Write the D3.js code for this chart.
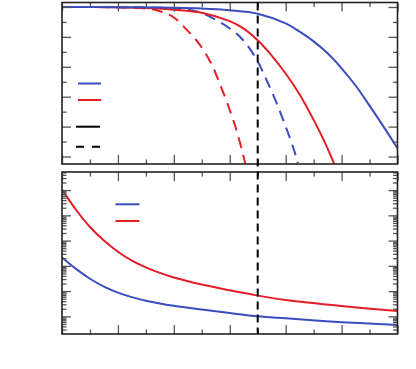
<!DOCTYPE html>
<html><head><meta charset="utf-8">
<script src="https://cdn.jsdelivr.net/npm/d3@7"></script>
<style>body{margin:0;background:#fff}svg{display:block}</style>
</head><body><svg id="c" width="416" height="369"></svg>
<script>
// ---- data ----
const xMajorTicks = [0, 1, 2, 3, 4, 5, 6];
const xMinorTicks = [0.5, 1.5, 2.5, 3.5, 4.5, 5.5];
const markerX = 3.5;

const topYMajor = [0, 0.2, 0.4, 0.6, 0.8, 1.0];
const topYMinor = [0.1, 0.3, 0.5, 0.7, 0.9];

const blueSolidX = [0, 1, 2, 2.5, 3, 3.5, 4, 4.25, 4.5, 4.75, 5, 5.25, 5.5, 5.75, 6];
const blueSolidY = [1.0, 0.999, 0.995, 0.99, 0.978, 0.955, 0.89, 0.835, 0.77, 0.69, 0.59, 0.475, 0.34, 0.2, 0.055];

const redSolidX = [0, 1, 1.5, 2, 2.5, 3, 3.25, 3.5, 3.75, 4.0, 4.25, 4.5, 4.7, 4.87];
const redSolidY = [1.0, 0.998, 0.993, 0.982, 0.962, 0.905, 0.855, 0.777, 0.675, 0.555, 0.415, 0.245, 0.095, -0.05];

const blueDashX = [0, 1, 1.5, 2, 2.46, 3.05, 3.27, 3.5, 3.66, 3.83, 3.98, 4.13, 4.22];
const blueDashY = [1.0, 0.999, 0.997, 0.99, 0.965, 0.843, 0.765, 0.635, 0.51, 0.365, 0.221, 0.065, -0.045];

const redDashX = [0, 1, 1.5, 1.75, 2, 2.25, 2.46, 2.67, 2.82, 2.97, 3.12, 3.24, 3.28];
const redDashY = [1.0, 0.998, 0.99, 0.972, 0.93, 0.84, 0.75, 0.621, 0.488, 0.343, 0.177, 0.01, -0.05];

const botX = [0, 0.25, 0.5, 0.75, 1, 1.25, 1.5, 1.75, 2, 2.5, 3, 3.5, 4, 5, 6];
const botRed = [1.07e5, 1.66e4, 3467, 1000, 363, 162, 87.1, 52.5, 34.7, 18.2, 10.7, 6.61, 4.47, 2.57, 1.62];
const botBlue = [213.8, 75.9, 30.9, 15.1, 8.71, 5.75, 4.17, 3.24, 2.63, 1.86, 1.35, 1.0, 0.832, 0.589, 0.457];

const botYMajor = [1, 10, 100, 1e3, 1e4, 1e5];

// ---- layout ----
const BLUE = "#3a4dbf", RED = "#e41e26";
const L = 62, R = 397.5;
const topP = {t: 2.5, b: 164};
const botP = {t: 172, b: 334};
const CURVE = d3.curveCatmullRom.alpha(0.5);

const svg = d3.select("#c");
svg.append("rect").attr("width", 416).attr("height", 369).attr("fill", "#fff");

const x = d3.scaleLinear().domain([0, 6]).range([L, R]);
const yTop = d3.scaleLinear().domain([-0.05, 1.03]).range([topP.b, topP.t]);
const yBot = d3.scaleLog().domain([0.2, 5.2e5]).range([botP.b, botP.t]);

const defs = svg.append("defs");
defs.append("clipPath").attr("id", "clipTop").append("rect")
  .attr("x", L).attr("y", topP.t).attr("width", R - L).attr("height", topP.b - topP.t);
defs.append("clipPath").attr("id", "clipBot").append("rect")
  .attr("x", L).attr("y", botP.t).attr("width", R - L).attr("height", botP.b - botP.t);

function ticks(g, axisFn, scale, vals, size) {
  g.call(axisFn(scale).tickValues(vals).tickSize(-size).tickFormat(""));
  g.select(".domain").remove();
  g.selectAll("line").attr("stroke", "#555").attr("stroke-width", 1.3);
}

function frameAxes(p, yScale, yMajor, yMinor) {
  const g = svg.append("g");
  ticks(g.append("g").attr("transform", `translate(0,${p.b})`), d3.axisBottom, x, xMajorTicks, 9);
  ticks(g.append("g").attr("transform", `translate(0,${p.b})`), d3.axisBottom, x, xMinorTicks, 4.5);
  ticks(g.append("g").attr("transform", `translate(0,${p.t})`), d3.axisTop, x, xMajorTicks, 9);
  ticks(g.append("g").attr("transform", `translate(0,${p.t})`), d3.axisTop, x, xMinorTicks, 4.5);
  ticks(g.append("g").attr("transform", `translate(${L},0)`), d3.axisLeft, yScale, yMajor, 9);
  ticks(g.append("g").attr("transform", `translate(${L},0)`), d3.axisLeft, yScale, yMinor, 4.5);
  ticks(g.append("g").attr("transform", `translate(${R},0)`), d3.axisRight, yScale, yMajor, 9);
  ticks(g.append("g").attr("transform", `translate(${R},0)`), d3.axisRight, yScale, yMinor, 4.5);
  g.append("rect").attr("x", L).attr("y", p.t).attr("width", R - L).attr("height", p.b - p.t)
    .attr("fill", "none").attr("stroke", "#222").attr("stroke-width", 1.6);
}

const botYMinor = [];
[0.1, 1, 10, 100, 1e3, 1e4, 1e5].forEach(d => {
  for (let m = 2; m <= 9; m++) {
    const v = d * m;
    if (v > yBot.domain()[0] && v < yBot.domain()[1]) botYMinor.push(v);
  }
});

// ---- top panel ----
const topG = svg.append("g").attr("clip-path", "url(#clipTop)");
const lineTop = (xs, ys) => d3.line().x((d, i) => x(xs[i])).y((d, i) => yTop(ys[i])).curve(CURVE)(xs);
function addTop(xs, ys, color, dash) {
  topG.append("path").attr("d", lineTop(xs, ys)).attr("fill", "none")
    .attr("stroke", color).attr("stroke-width", 2).attr("stroke-dasharray", dash || null);
}
addTop(redDashX, redDashY, RED, "11,7");
addTop(blueDashX, blueDashY, BLUE, "11,7");
addTop(redSolidX, redSolidY, RED);
addTop(blueSolidX, blueSolidY, BLUE);

// ---- bottom panel ----
const botG = svg.append("g").attr("clip-path", "url(#clipBot)");
const lineBot = ys => d3.line().x((d, i) => x(botX[i])).y((d, i) => yBot(ys[i])).curve(CURVE)(botX);
botG.append("path").attr("d", lineBot(botRed)).attr("fill", "none").attr("stroke", RED).attr("stroke-width", 2);
botG.append("path").attr("d", lineBot(botBlue)).attr("fill", "none").attr("stroke", BLUE).attr("stroke-width", 2);

frameAxes(topP, yTop, topYMajor, topYMinor);
frameAxes(botP, yBot, botYMajor, botYMinor);

svg.append("line").attr("x1", x(markerX)).attr("x2", x(markerX))
  .attr("y1", topP.t).attr("y2", botP.b)
  .attr("stroke", "#000").attr("stroke-width", 2).attr("stroke-dasharray", "8,5");

// ---- legends (swatches only) ----
const topLegend = [
  {color: BLUE, dash: null, y: 83.5, x1: 78, x2: 101},
  {color: RED, dash: null, y: 100, x1: 78, x2: 101},
  {color: "#000", dash: null, y: 126.7, x1: 76, x2: 100},
  {color: "#000", dash: "8,8", y: 146.7, x1: 76, x2: 100}
];
const botLegend = [
  {color: BLUE, dash: null, y: 204.3, x1: 115.5, x2: 139.5},
  {color: RED, dash: null, y: 221, x1: 115.5, x2: 139.5}
];
svg.selectAll(".leg").data(topLegend.concat(botLegend)).enter().append("line")
  .attr("x1", d => d.x1).attr("x2", d => d.x2).attr("y1", d => d.y).attr("y2", d => d.y)
  .attr("stroke", d => d.color).attr("stroke-width", 2).attr("stroke-dasharray", d => d.dash);
</script></body></html>
